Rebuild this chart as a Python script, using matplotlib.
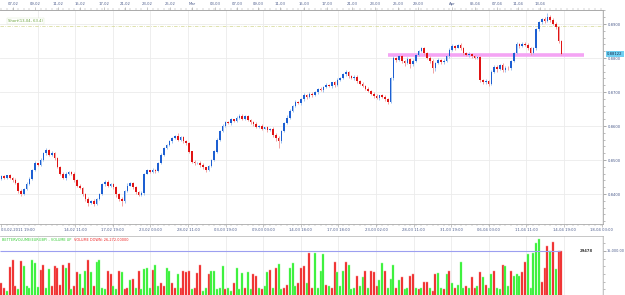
import numpy as np
import matplotlib
matplotlib.use("Agg")
import matplotlib.pyplot as plt
from matplotlib.ticker import MultipleLocator
import matplotlib.transforms as mtransforms

# ---------------- data ----------------
first_open = 8445  # pips (x 1e-4)
closes_pips = [
    8452, 8448, 8455, 8446, 8440, 8432, 8410, 8400, 8415, 8430,
    8445, 8470, 8490, 8485, 8500, 8520, 8528, 8515, 8522, 8505,
    8480, 8460, 8448, 8458, 8466, 8460, 8440, 8425, 8418, 8400,
    8385, 8375, 8380, 8372, 8385, 8400, 8430, 8435, 8425, 8430,
    8420, 8400, 8385, 8378, 8410, 8425, 8432, 8420, 8405, 8398,
    8402, 8460, 8470, 8465, 8472, 8468, 8490, 8515, 8535, 8545,
    8555, 8565, 8572, 8560, 8568, 8555, 8550, 8525, 8495, 8490,
    8492, 8485, 8478, 8470, 8482, 8500, 8525, 8560, 8585, 8600,
    8612, 8608, 8620, 8615, 8625, 8630, 8622, 8628, 8618, 8612,
    8605, 8598, 8600, 8592, 8596, 8588, 8590, 8575, 8565, 8555,
    8585, 8610, 8625, 8645, 8660, 8672, 8668, 8678, 8690, 8685,
    8695, 8690, 8700, 8710, 8705, 8715, 8722, 8718, 8728, 8720,
    8735, 8740, 8752, 8760, 8748, 8740, 8745, 8732, 8725, 8718,
    8710, 8702, 8695, 8688, 8682, 8690, 8685, 8678, 8672, 8740,
    8800, 8795, 8805, 8790, 8785, 8798, 8782, 8792, 8810, 8820,
    8828, 8815, 8800, 8790, 8770, 8785, 8795, 8788, 8792, 8805,
    8825, 8835, 8830, 8838, 8828, 8815, 8808, 8812, 8805, 8800,
    8802, 8735, 8728, 8732, 8725, 8760, 8775, 8768, 8780, 8765,
    8772, 8770, 8790, 8815, 8840, 8835, 8842, 8838, 8830, 8815,
    8828, 8885, 8905, 8915, 8910, 8922, 8912, 8900, 8890, 8850,
    8812.2,
]
wick_up_pips = [
    3, 5, 2, 4, 3, 6, 2, 4, 3, 5,
    4, 3, 6, 2, 5, 4, 6, 3, 5, 2,
    4, 3, 5, 6, 3, 2, 4, 5, 3, 2,
    4, 6, 3, 5, 2, 4, 3, 5, 6, 2,
    3, 4, 2, 5, 3, 6, 4, 2, 5, 3,
    6, 3, 4, 2, 5, 3, 4, 6, 2, 3,
    5, 4, 3, 6, 2, 4, 5, 3, 2, 4,
    3, 5, 6, 2, 4, 3, 5, 4, 2, 6,
    3, 4, 5, 2, 3, 6, 4, 3, 5, 2,
    4, 6, 3, 5, 2, 4, 3, 6, 4, 5,
    3, 2, 6, 4, 3, 5, 2, 4, 6, 3,
    5, 4, 2, 3, 6, 4, 5, 3, 2, 4,
    6, 3, 5, 4, 2, 3, 5, 6, 3, 4,
    2, 5, 3, 4, 6, 2, 3, 5, 4, 3,
    6, 2, 4, 5, 3, 4, 2, 6, 3, 5,
    4, 3, 2, 5, 6, 3, 4, 2, 5, 3,
    4, 6, 3, 2, 5, 4, 3, 6, 2, 4,
    5, 3, 4, 6, 2, 5, 3, 4, 3, 6,
    5, 4, 3, 2, 6, 3, 4, 5, 6, 3,
    4, 3, 5, 4, 6, 10, 4, 5, 6, 3,
    4,
]
wick_dn_pips = [
    4, 3, 5, 2, 6, 4, 8, 5, 3, 4,
    3, 5, 2, 4, 3, 2, 5, 4, 3, 6,
    4, 5, 3, 6, 2, 4, 5, 3, 4, 6,
    5, 10, 4, 6, 3, 4, 2, 5, 3, 4,
    6, 8, 5, 13, 3, 4, 2, 5, 6, 4,
    3, 5, 2, 4, 3, 5, 2, 3, 4, 2,
    3, 4, 2, 5, 3, 4, 6, 5, 3, 4,
    3, 5, 4, 6, 3, 2, 4, 3, 5, 2,
    4, 3, 5, 2, 4, 3, 5, 4, 3, 5,
    4, 5, 3, 4, 2, 5, 3, 6, 10, 20,
    4, 2, 3, 5, 3, 4, 2, 5, 3, 6,
    3, 4, 2, 5, 3, 4, 2, 3, 5, 4,
    3, 4, 2, 5, 6, 3, 4, 5, 3, 4,
    5, 3, 4, 6, 3, 5, 4, 5, 6, 3,
    4, 6, 3, 5, 8, 4, 10, 5, 3, 4,
    3, 5, 4, 6, 15, 8, 4, 5, 6, 3,
    4, 3, 5, 2, 4, 5, 3, 4, 5, 3,
    4, 6, 5, 4, 6, 3, 5, 8, 4, 6,
    5, 4, 6, 3, 4, 5, 3, 4, 6, 5,
    4, 3, 5, 4, 6, 3, 5, 4, 5, 6,
    3,
]
volumes_k = [
    4.5, 3.0, 2.0, 9.8, 12.0, 3.5, 2.5, 11.8, 10.0, 3.5,
    3.0, 12.0, 11.0, 3.2, 8.8, 10.5, 3.0, 9.0, 3.5, 10.0,
    9.5, 4.0, 10.5, 9.5, 11.0, 2.5, 3.5, 8.0, 7.5, 3.0,
    8.5, 12.0, 8.0, 3.5, 11.5, 12.0, 3.0, 2.5, 8.5, 7.5,
    3.5, 2.5, 8.5, 8.0, 2.5, 3.0, 5.5, 6.0, 3.0, 8.5,
    2.5, 9.0, 9.5, 3.0, 8.8, 10.5, 3.5, 4.5, 3.5, 9.5,
    8.5, 4.5, 3.0, 7.5, 3.0, 8.5, 8.0, 8.5, 2.5, 3.0,
    7.8, 10.5, 2.0, 3.0, 7.5, 8.5, 8.5, 2.5, 3.0, 10.0,
    2.5, 3.0, 2.0, 4.5, 9.5, 2.5, 7.8, 3.0, 8.0, 2.5,
    7.5, 7.0, 3.0, 2.5, 3.5, 8.0, 8.8, 3.0, 9.5, 10.8,
    2.5, 3.0, 4.0, 9.5, 11.0, 3.5, 4.5, 9.5, 10.0, 4.5,
    14.2, 3.0, 14.2, 3.0, 8.5, 13.9, 4.0, 3.5, 3.0, 11.5,
    8.0, 3.5, 8.5, 11.5, 10.5, 2.5, 3.0, 7.0, 3.5, 6.5,
    8.5, 3.0, 8.5, 8.0, 3.5, 5.5, 11.0, 8.5, 3.0, 6.0,
    10.5, 3.0, 5.5, 6.5, 2.5, 3.0, 7.0, 7.5, 3.0, 2.5,
    3.0, 5.0, 4.8, 3.0, 2.0, 7.5, 7.8, 3.0, 2.5, 7.5,
    8.5, 4.5, 3.0, 4.0, 11.5, 3.0, 3.5, 3.0, 6.5, 3.0,
    3.5, 8.0, 6.5, 4.0, 3.0, 7.5, 8.5, 3.0, 2.5, 10.5,
    10.0, 3.5, 8.5, 7.0, 7.5, 7.0, 8.0, 11.5, 14.0, 3.0,
    14.5, 17.5, 18.8, 5.0, 9.5, 16.5, 15.0, 17.8, 9.0, 15.0,
    15.0,
]
vol_dirs = ("dduddduduu" "uuuudduudd" "dddududdud" "ududuuuudd" "uududdudud"
            "uuuuduuddu" "udduddddud" "dduuduuuuu" "duuduuuduu" "dduduududu"
            "udduuudddu" "dduuuududd" "uuuduuuduu" "duddduuduu" "ududuuddud"
            "uddudduudu" "duduuududd" "ududuuduud" "uuduuudduu" "uuudddudud"
            "d")

price_ticks = [0.8400, 0.8500, 0.8600, 0.8700, 0.8800, 0.8900]
last_price = 0.88122
support_level = 0.8809
short_level = 0.8893
short_label = "Short(13-04, 63.4)"
vol_level = 15000

top_labels = ["07-02", "09-02", "11-02", "15-02", "17-02", "21-02", "23-02", "25-02",
              "Mar", "03-03", "07-03", "09-03", "11-03", "15-03", "17-03", "21-03",
              "23-03", "25-03", "29-03", "Apr", "05-04", "07-04", "11-04", "13-04"]
bottom_labels = ["03-02-2011 19:00", "14-02 11:00", "17-02 19:00", "23-02 03:00",
                 "28-02 11:00", "03-03 19:00", "09-03 03:00", "14-03 18:00",
                 "17-03 18:00", "23-03 02:00", "28-03 11:00", "31-03 19:00",
                 "06-04 03:00", "11-04 11:00", "14-04 19:00", "18-04 03:00"]

# ---------------- layout (pixels) ----------------
W, H = 625, 295
STEP = 2.8          # pixels per candle
X0 = 1.4            # pixel centre of first candle
AX_RIGHT = 603


def px2i(p):
    return (np.asarray(p, dtype=float) - X0) / STEP


top_px = [13, 35, 58, 80, 104, 125, 147, 170, 192, 215, 237, 258, 280, 304,
          327, 352, 375, 398, 418, 452, 475, 497, 518, 540]
bottom_px = [1.4] + [37.6 * k for k in range(2, 17)]
grid_px = [37.6 * k for k in range(1, 17)]

TXT = "#4a5a8a"
FS = 2.7

# ---------------- derived OHLC ----------------
close = np.array(closes_pips, dtype=float) / 1e4
opens = np.concatenate([[first_open / 1e4], close[:-1]])
high = np.maximum(opens, close) + np.array(wick_up_pips) / 1e4
low = np.minimum(opens, close) - np.array(wick_dn_pips) / 1e4
idx = np.arange(len(close))
up = close >= opens

fig = plt.figure(figsize=(W / 100, H / 100), dpi=100)
fig.patch.set_facecolor("white")

# ---------------- price axes ----------------
ax = fig.add_axes([0, (H - 224) / H, AX_RIGHT / W, (224 - 10) / H])
xlim = (px2i(0), px2i(AX_RIGHT))
ax.set_xlim(*xlim)
ax.set_ylim(0.89 - (224 - 24) / 3400, 0.89 + (24 - 10) / 3400)

for g in grid_px:
    ax.axvline(px2i(g), color="#ebebeb", lw=0.6, zorder=0)
for p in price_ticks:
    ax.axhline(p, color="#ebebeb", lw=0.6, zorder=0)

wick_cols = np.where(up, "#9fc3ef", "#f2a3a3")
body_cols = np.where(up, "#1d5fd2", "#e01414")
ax.vlines(idx, low, high, colors=wick_cols, lw=0.7, zorder=2)
body_h = np.maximum(np.abs(close - opens), 0.00008)
ax.bar(idx, body_h, bottom=np.minimum(opens, close), width=0.62,
       color=body_cols, linewidth=0, zorder=3)

ax.hlines(support_level, px2i(388), px2i(584), color="#f4a4f4", lw=2.6, zorder=1)
ax.axhline(short_level, color="#d2d68e", lw=0.5, ls=(0, (5, 2, 1, 2)), zorder=1)
ax.text(px2i(8), 0.89 + 3 / 3400, short_label, fontsize=FS, color="#6aa23c",
        va="center", ha="left",
        bbox=dict(facecolor="white", edgecolor="#dbe8cc", lw=0.3, pad=0.6))

# right price axis
ax.yaxis.tick_right()
ax.set_yticks(price_ticks)
ax.set_yticklabels([f"{p:.4f}" for p in price_ticks])
ax.yaxis.set_minor_locator(MultipleLocator(0.002))
ax.tick_params(axis="y", which="major", labelsize=FS, colors="#888888",
               labelcolor=TXT, length=2.5, width=0.5, pad=1)
ax.tick_params(axis="y", which="minor", colors="#888888", length=1.4, width=0.4)

# bottom time axis
ax.set_xticks(px2i(bottom_px))
ax.set_xticklabels(bottom_labels)
ax.xaxis.set_minor_locator(MultipleLocator(2))
ax.tick_params(axis="x", which="major", labelsize=FS, colors="#999999",
               labelcolor=TXT, length=2.2, width=0.4, pad=0.8)
ax.tick_params(axis="x", which="minor", colors="#999999", length=1.2, width=0.3)
ax.get_xticklabels()[0].set_ha("left")

# top time axis
sec = ax.secondary_xaxis("top")
sec.set_xticks(px2i(top_px))
sec.set_xticklabels(top_labels)
sec.xaxis.set_minor_locator(MultipleLocator(2))
sec.tick_params(axis="x", which="major", labelsize=FS, colors="#999999",
                labelcolor=TXT, length=2.2, width=0.4, pad=0.6)
sec.tick_params(axis="x", which="minor", colors="#999999", length=1.2, width=0.3)
sec.spines["top"].set_color("#aaaaaa")
sec.spines["top"].set_linewidth(0.6)

ax.spines["left"].set_visible(False)
for s in ["right", "top", "bottom"]:
    ax.spines[s].set_color("#aaaaaa")
    ax.spines[s].set_linewidth(0.6)

# current price tag
trans = mtransforms.blended_transform_factory(ax.transAxes, ax.transData)
ax.text(1.007, last_price, f"{last_price:.5f}", transform=trans, fontsize=FS,
        color="#1a2a4a", ha="left", va="center", clip_on=False,
        bbox=dict(facecolor="#6fd0f2", edgecolor="none", pad=0.7))

# ---------------- volume axes ----------------
ax2 = fig.add_axes([0, 0, AX_RIGHT / W, (295 - 236) / H])
ax2.set_xlim(*xlim)
ax2.set_ylim((297 - 295) * 15000 / 46, (297 - 236) * 15000 / 46)
for g in grid_px:
    ax2.axvline(px2i(g), color="#ebebeb", lw=0.6, zorder=0)

vols = np.array(volumes_k) * 1000
vup = np.array([d == "u" for d in vol_dirs])
vcols = np.where(vup, "#22ee22", "#ee1515")
vedge = np.where(vup, "#9dfb9d", "#f79a9a")
ax2.bar(idx, vols, width=0.78, color=vcols, edgecolor=vedge, linewidth=0.35, zorder=2)
ax2.hlines(vol_level, px2i(0), px2i(560), color="#9c9ff0", lw=0.8, zorder=3)

ax2.yaxis.tick_right()
ax2.set_yticks([vol_level])
ax2.set_yticklabels(["15,000.00"])
ax2.yaxis.set_minor_locator(MultipleLocator(2500))
ax2.tick_params(axis="y", which="major", labelsize=2.5, colors="#888888",
                labelcolor=TXT, length=2.0, width=0.5, pad=0.5)
ax2.tick_params(axis="y", which="minor", colors="#888888", length=1.4, width=0.4)
ax2.set_xticks([])
for s in ["left", "bottom"]:
    ax2.spines[s].set_visible(False)
for s in ["right", "top"]:
    ax2.spines[s].set_color("#b0b0b0")
    ax2.spines[s].set_linewidth(0.5)

ax2.text(px2i(586), vol_level, "29478", fontsize=FS, color="#333333",
         fontweight="bold", ha="center", va="center")

# volume indicator title (two colours)
t1 = fig.text(2 / W, 1 - 240 / H, "BETTERVOLUME(EURGBP) - VOLUME UP", fontsize=2.5,
              color="#33cc33", ha="left", va="center")
fig.canvas.draw()
bb = t1.get_window_extent()
fig.text((bb.x1 + 3) / W, 1 - 240 / H, "VOLUME DOWN: 26,272.00000", fontsize=2.5,
         color="#ee2222", ha="left", va="center")

fig.savefig("out.png", dpi=100)
